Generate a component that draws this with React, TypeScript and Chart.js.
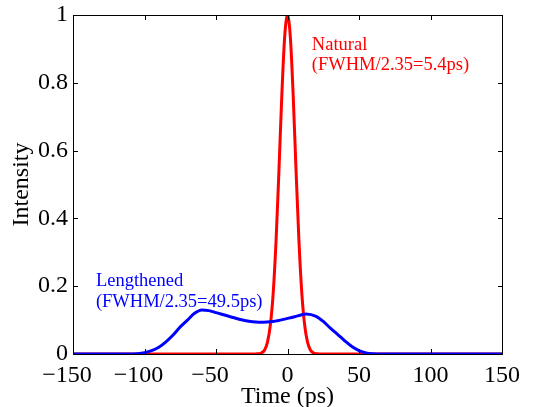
import React, { useEffect, useRef } from "react";
import { Chart, registerables } from "chart.js";

Chart.register(...registerables);

// Natural bunch profile (red)
const naturalTime = [-150, -24, -22, -20, -18, -16, -14, -12, -10, -8, -6, -4, -2, 0, 2, 4, 6, 8, 10, 12, 14, 16, 18, 20, 22, 24, 150];
const naturalIntensity = [0, 0, 0.0003, 0.001, 0.004, 0.012, 0.035, 0.085, 0.18, 0.334, 0.539, 0.76, 0.934, 1, 0.934, 0.76, 0.539, 0.334, 0.18, 0.085, 0.035, 0.012, 0.004, 0.001, 0.0003, 0, 0];

// Lengthened bunch profile (blue)
const lengthenedTime = [-150, -110, -105, -100, -95, -90, -85, -80, -75, -70, -65, -60, -55, -50, -40, -30, -20, -10, 0, 5, 10, 13, 20, 25, 30, 35, 40, 45, 50, 55, 60, 65, 150];
const lengthenedIntensity = [0, 0, 0.001, 0.004, 0.01, 0.02, 0.036, 0.056, 0.08, 0.1, 0.12, 0.13, 0.128, 0.122, 0.11, 0.099, 0.094, 0.096, 0.105, 0.11, 0.116, 0.118, 0.111, 0.096, 0.076, 0.058, 0.039, 0.022, 0.01, 0.003, 0.0005, 0, 0];

const xTicks = [-150, -100, -50, 0, 50, 100, 150];
const yTicks = [0, 0.2, 0.4, 0.6, 0.8, 1];

const naturalLabel = ["Natural", "(FWHM/2.35=5.4ps)"];
const naturalLabelPos = [17, 0.897];
const lengthenedLabel = ["Lengthened", "(FWHM/2.35=49.5ps)"];
const lengthenedLabelPos = [-134, 0.2];

const SERIF = "'Liberation Serif', 'Times New Roman', serif";

const framePlugin = {
  id: "framePlugin",
  afterDraw(chart: any) {
    const ctx = chart.ctx;
    const xs = chart.scales.x;
    const ys = chart.scales.y;
    const L = 5;
    const l = Math.round(xs.getPixelForValue(xs.min));
    const r = Math.round(xs.getPixelForValue(xs.max));
    const t = Math.round(ys.getPixelForValue(ys.max));
    const b = Math.round(ys.getPixelForValue(ys.min));
    ctx.save();
    ctx.fillStyle = "#ffffff";
    ctx.fillRect(0, 0, 1, 1);
    ctx.fillStyle = "#000000";
    ctx.fillRect(l, t, r - l + 1, 1);
    ctx.fillRect(l, b, r - l + 1, 1);
    ctx.fillRect(l, t, 1, b - t + 1);
    ctx.fillRect(r, t, 1, b - t + 1);
    for (const v of xTicks) {
      const px = Math.round(xs.getPixelForValue(v));
      ctx.fillRect(px, b - L, 1, L);
      ctx.fillRect(px, t, 1, L);
    }
    for (const v of yTicks) {
      const py = Math.round(ys.getPixelForValue(v));
      ctx.fillRect(l, py, L, 1);
      ctx.fillRect(r - L + 1, py, L, 1);
    }

    ctx.font = `18.5px ${SERIF}`;
    ctx.textBaseline = "alphabetic";
    ctx.textAlign = "left";
    const drawLabel = (lines: string[], pos: number[], color: string) => {
      ctx.fillStyle = color;
      const x = xs.getPixelForValue(pos[0]);
      const y = ys.getPixelForValue(pos[1]);
      lines.forEach((s, i) => ctx.fillText(s, x, y + i * 20.5));
    };
    drawLabel(naturalLabel, naturalLabelPos, "#ff0000");
    drawLabel(lengthenedLabel, lengthenedLabelPos, "#0000ff");
    ctx.restore();
  },
};

export default function App() {
  const ref = useRef<HTMLCanvasElement>(null);
  useEffect(() => {
    if (!ref.current) return;
    const chart = new Chart(ref.current, {
      type: "line",
      data: {
        datasets: [
          {
            label: "Lengthened",
            data: lengthenedTime.map((x, i) => ({ x, y: lengthenedIntensity[i] })),
            borderColor: "#0000ff",
            borderWidth: 3,
            pointRadius: 0,
            cubicInterpolationMode: "monotone",
            fill: false,
          },
          {
            label: "Natural",
            data: naturalTime.map((x, i) => ({ x, y: naturalIntensity[i] })),
            borderColor: "#ff0000",
            borderWidth: 3,
            pointRadius: 0,
            cubicInterpolationMode: "monotone",
            fill: false,
          },
        ],
      },
      options: {
        animation: false,
        responsive: true,
        maintainAspectRatio: false,
        layout: { padding: { left: 0, right: 33, top: 15, bottom: 0 } },
        plugins: { legend: { display: false }, tooltip: { enabled: false } },
        scales: {
          x: {
            type: "linear",
            min: -150,
            max: 150,
            afterBuildTicks: (s: any) => {
              s.ticks = xTicks.map((v) => ({ value: v }));
            },
            afterFit: (s: any) => {
              s.height = 53;
              s.paddingLeft = 0;
              s.paddingRight = 0;
            },
            grid: { display: false, drawTicks: false },
            border: { display: false },
            ticks: {
              color: "#000",
              padding: 7,
              maxRotation: 0,
              autoSkip: false,
              font: { family: SERIF, size: 24 },
              callback: (v: any) => (v < 0 ? "\u2212" + Math.abs(v) + "\u2002" : String(v)),
            },
            title: {
              display: true,
              text: "Time (ps)",
              color: "#000",
              font: { family: SERIF, size: 24, lineHeight: 0.85 },
              padding: { top: 0, bottom: 0 },
            },
          },
          y: {
            type: "linear",
            min: 0,
            max: 1,
            afterBuildTicks: (s: any) => {
              s.ticks = yTicks.map((v) => ({ value: v }));
            },
            afterFit: (s: any) => {
              s.width = 73;
              s.paddingTop = 0;
              s.paddingBottom = 0;
            },
            grid: { display: false, drawTicks: false },
            border: { display: false },
            ticks: {
              color: "#000",
              padding: 5,
              autoSkip: false,
              font: { family: SERIF, size: 24 },
              callback: (v: any) => String(Math.round(v * 10) / 10),
            },
            title: {
              display: true,
              text: "Intensity",
              color: "#000",
              font: { family: SERIF, size: 24 },
              padding: { top: 7, bottom: 0 },
            },
          },
        },
      },
      plugins: [framePlugin],
    });
    return () => chart.destroy();
  }, []);
  return (
    <div style={{ position: "absolute", left: 0, top: 0, width: 535, height: 407, background: "#fff" }}>
      <canvas ref={ref} />
    </div>
  );
}
